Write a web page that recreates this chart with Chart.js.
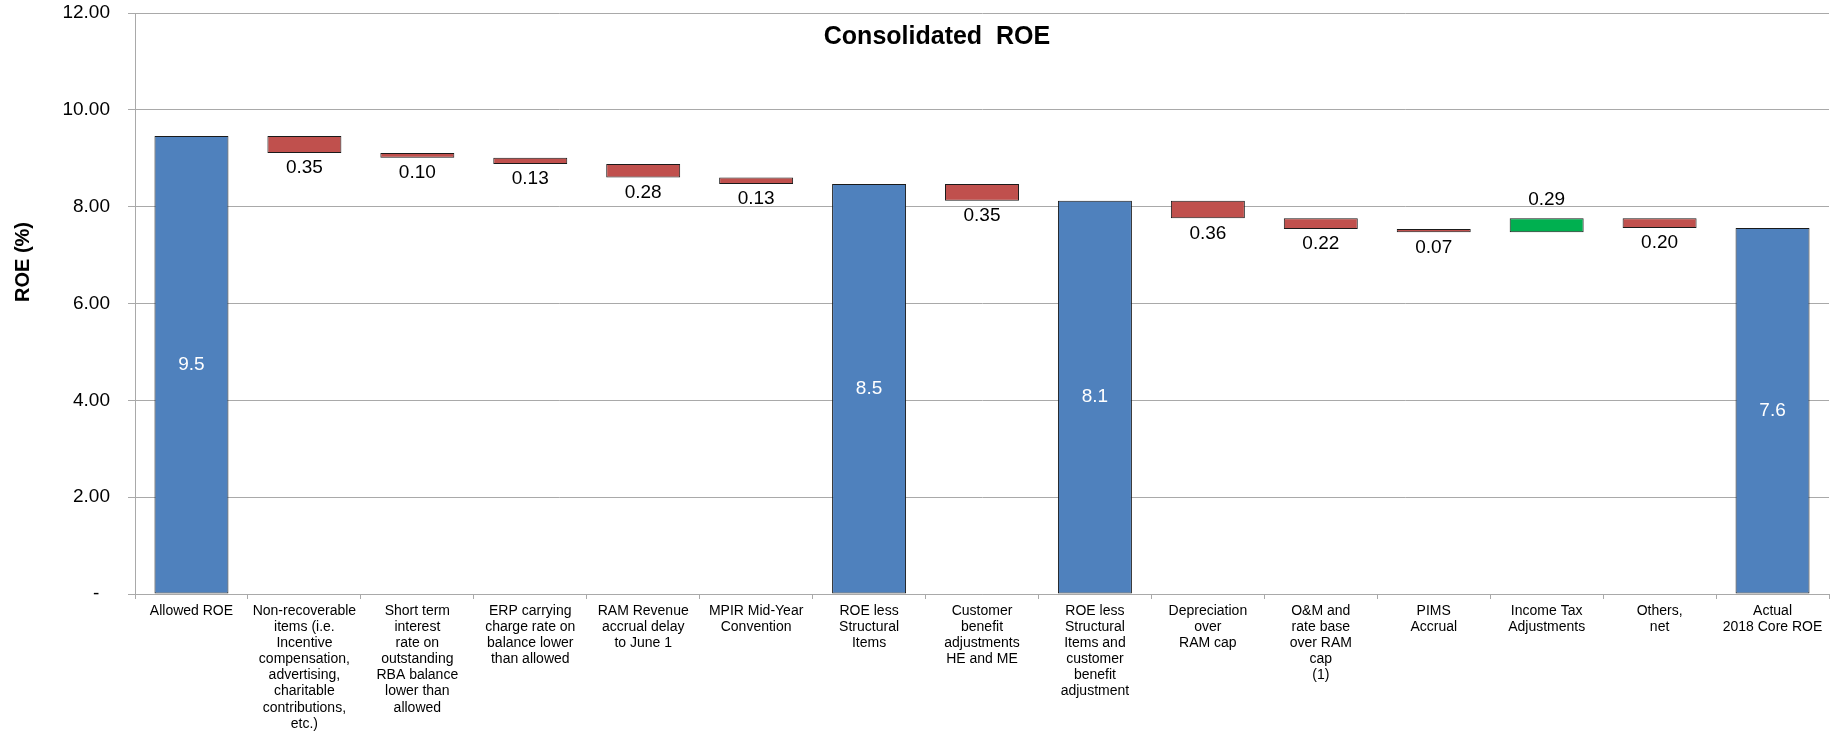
<!DOCTYPE html>
<html>
<head>
<meta charset="utf-8">
<script src="https://cdn.jsdelivr.net/npm/chart.js@4.4.1/dist/chart.umd.min.js"></script>
<style>
  html, body { margin: 0; padding: 0; background: #ffffff; }
  #wrap { width: 1836px; height: 731px; position: relative; }
</style>
</head>
<body>
<div id="wrap"><canvas id="c" width="1836" height="731"></canvas></div>
<script>
// ---- Data ----
const categories = [
  ['Allowed ROE'],
  ['Non-recoverable', 'items (i.e.', 'Incentive', 'compensation,', 'advertising,', 'charitable', 'contributions,', 'etc.)'],
  ['Short term', 'interest', 'rate on', 'outstanding', 'RBA balance', 'lower than', 'allowed'],
  ['ERP carrying', 'charge rate on', 'balance lower', 'than allowed'],
  ['RAM Revenue', 'accrual delay', 'to June 1'],
  ['MPIR Mid-Year', 'Convention'],
  ['ROE less', 'Structural', 'Items'],
  ['Customer', 'benefit', 'adjustments', 'HE and ME'],
  ['ROE less', 'Structural', 'Items and', 'customer', 'benefit', 'adjustment'],
  ['Depreciation', 'over', 'RAM cap'],
  ['O&M and', 'rate base', 'over RAM', 'cap', '(1)'],
  ['PIMS', 'Accrual'],
  ['Income Tax', 'Adjustments'],
  ['Others,', 'net'],
  ['Actual', '2018 Core ROE']
];
// 'total' bars are running totals; 'change' bars are step values
const barKinds = ['total', 'change', 'change', 'change', 'change', 'change', 'total', 'change', 'total', 'change', 'change', 'change', 'change', 'change', 'total'];
const startValue = 9.46;
const changes = [null, -0.35, -0.10, -0.13, -0.28, -0.13, null, -0.35, null, -0.36, -0.22, -0.07, 0.29, -0.20, null];
const yTicks = [0, 2, 4, 6, 8, 10, 12];
const chartTitle = 'Consolidated  ROE';
const yAxisTitle = 'ROE (%)';

// ---- Build floating bar ranges ----
const ranges = [];
const barColors = [];
let running = startValue;
for (let i = 0; i < categories.length; i++) {
  if (barKinds[i] === 'total') {
    ranges.push([0, running]);
    barColors.push('#4F81BD');
  } else {
    const next = running + changes[i];
    ranges.push([Math.min(running, next), Math.max(running, next)]);
    barColors.push(changes[i] < 0 ? '#C0504D' : '#00B050');
    running = next;
  }
}

const FONT = '"Liberation Sans", Arial, Helvetica, sans-serif';
const GRID = '#A9A9A9';

const labelPlugin = {
  id: 'labels',
  afterDatasetsDraw(chart) {
    const ctx = chart.ctx;
    const meta = chart.getDatasetMeta(0);
    ctx.save();
    ctx.textAlign = 'center';
    ctx.textBaseline = 'middle';
    meta.data.forEach((bar, i) => {
      const r = ranges[i];
      const top = Math.min(bar.y, bar.base);
      const bottom = Math.max(bar.y, bar.base);
      if (barKinds[i] === 'total') {
        ctx.fillStyle = '#FFFFFF';
        ctx.font = '19px ' + FONT;
        ctx.fillText(r[1].toFixed(1), bar.x, (top + bottom) / 2);
      } else {
        ctx.fillStyle = '#000000';
        ctx.font = '19px ' + FONT;
        const txt = Math.abs(changes[i]).toFixed(2);
        if (changes[i] < 0) ctx.fillText(txt, bar.x, bottom + 15);
        else ctx.fillText(txt, bar.x, top - 19);
      }
    });
    // Chart title
    ctx.fillStyle = '#000000';
    ctx.font = 'bold 25px ' + FONT;
    ctx.fillText(chartTitle, 937, 37);
    // Y axis title
    ctx.translate(23, 262);
    ctx.rotate(-Math.PI / 2);
    ctx.font = 'bold 20px ' + FONT;
    ctx.fillText(yAxisTitle, 0, 0);
    ctx.restore();
  }
};

new Chart(document.getElementById('c'), {
  type: 'bar',
  data: {
    labels: categories,
    datasets: [{
      data: ranges,
      backgroundColor: barColors,
      borderColor: '#1A1A1A',
      borderWidth: 1,
      borderSkipped: false,
      barPercentage: 0.655,
      categoryPercentage: 1.0
    }]
  },
  options: {
    responsive: false,
    animation: false,
    devicePixelRatio: 1,
    layout: { padding: { top: 13, right: 7, left: 0, bottom: 0 } },
    plugins: { legend: { display: false }, tooltip: { enabled: false }, title: { display: false } },
    scales: {
      x: {
        grid: { display: true, drawOnChartArea: false, drawTicks: true, tickLength: 5, color: GRID, offset: true },
        border: { color: GRID },
        ticks: { font: { family: FONT, size: 14, lineHeight: 1.15 }, color: '#000', maxRotation: 0, minRotation: 0, autoSkip: false, padding: 4 },
        afterFit(s) { s.height = 731 - 594; s.paddingLeft = 0; s.paddingRight = 0; }
      },
      y: {
        min: 0, max: 12,
        afterBuildTicks(s) { s.ticks = yTicks.map(v => ({ value: v })); },
        grid: { color: GRID, tickLength: 7 },
        border: { color: GRID },
        ticks: {
          font: { family: FONT, size: 19 }, color: '#000', padding: 18,
          callback: v => v === 0 ? '-  ' : Number(v).toFixed(2)
        },
        afterFit(s) { s.width = 135; s.paddingTop = 0; s.paddingBottom = 0; }
      }
    }
  },
  plugins: [labelPlugin]
});
</script>
</body>
</html>
